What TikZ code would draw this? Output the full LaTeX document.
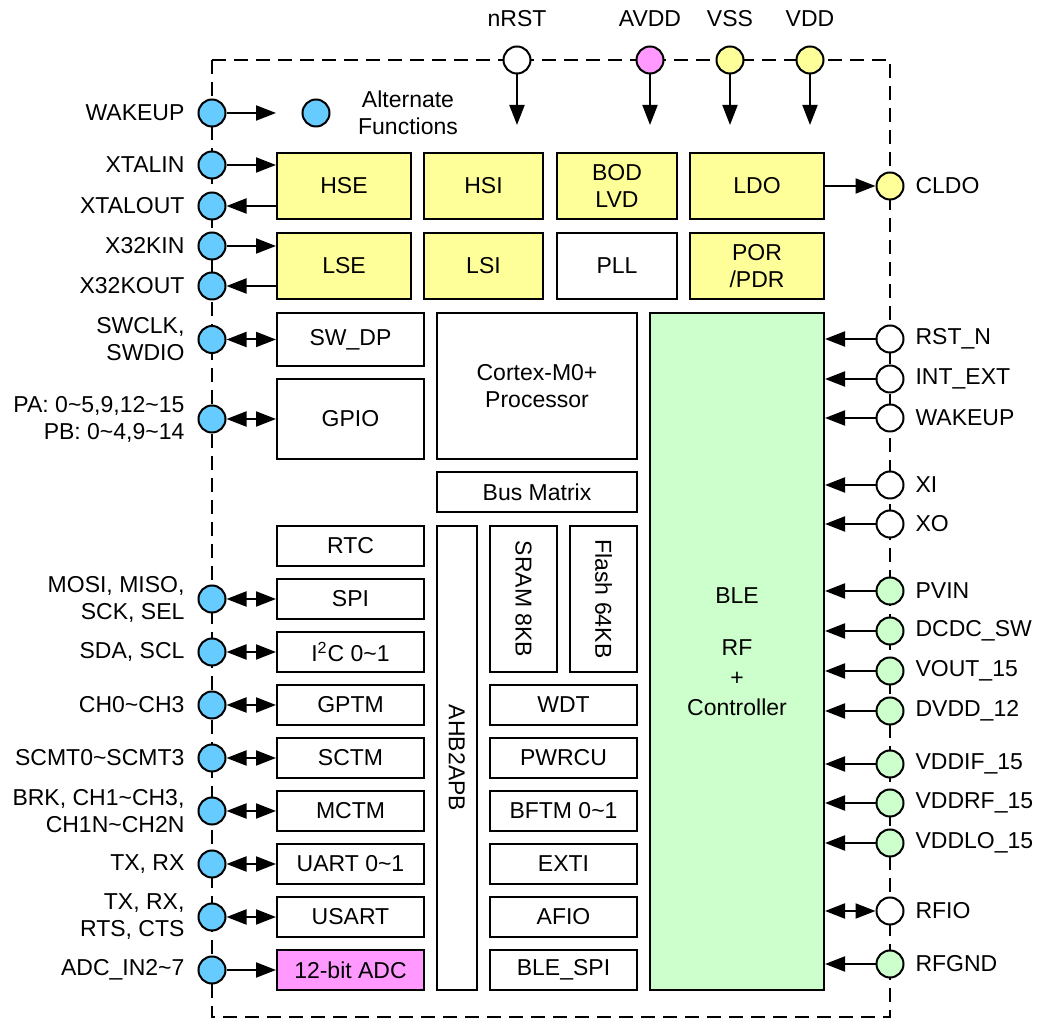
\documentclass[tikz,border=0pt]{standalone}
\usepackage{fontspec}
\setmainfont{Liberation Sans}
\usetikzlibrary{arrows.meta,positioning}
\definecolor{pinblue}{RGB}{102,204,255}
\definecolor{pinyel}{RGB}{255,255,153}
\definecolor{pinpink}{RGB}{255,153,255}
\definecolor{blegreen}{RGB}{204,255,204}
\newcommand{\tld}{\textasciitilde}

\begin{document}
\begin{tikzpicture}[x=0.5pt,y=-0.5pt,
		font=\fontsize{11.5}{13.5}\selectfont,
		box/.style={draw,line width=1pt,inner sep=0pt,align=center},
		sbox/.style={box,minimum width=73.5pt,minimum height=20pt},
		ybox/.style={box,fill=pinyel,minimum width=#1,minimum height=33pt},
		pin/.style={circle,draw,line width=1pt,minimum size=13.5pt,inner sep=0pt,fill=#1},
		ll/.style={align=right,label distance=3pt},
		rl/.style={label distance=2pt},
		tl/.style={label distance=6pt},
		arr/.style={line width=1pt,-{Triangle[length=10pt,width=7.5pt]}},
		rarr/.style={line width=1pt,{Triangle[length=10pt,width=7.5pt]}-},
		barr/.style={line width=1pt,{Triangle[length=10pt,width=7.5pt]}-{Triangle[length=10pt,width=7.5pt]}}]
	
	\useasboundingbox (0,0) rectangle (1040,1020);
	
	% chip outline
	\draw[line width=0.7pt,dash pattern=on 7pt off 4pt] (212,60) rectangle (890,1017);
	
	% clock and power blocks
	\node[ybox=67pt] (hse) at (344,186) {HSE};
	\node[ybox=59.5pt] (hsi) at (483.5,186) {HSI};
	\node[ybox=60pt] (bod) at (617,186) {BOD\\LVD};
	\node[ybox=67pt] (ldo) at (757,186) {LDO};
	\node[ybox=67pt] (lse) at (344,266) {LSE};
	\node[ybox=59.5pt] (lsi) at (483.5,266) {LSI};
	\node[box,minimum width=60pt,minimum height=33pt] (pll) at (617,266) {PLL};
	\node[ybox=67pt] (por) at (757,266) {POR\\/PDR};
	
	% core
	\node[box,minimum width=73.5pt,minimum height=26.5pt] (swdp) at (350.5,339.5) {SW\_DP};
	\node[box,minimum width=73.5pt,minimum height=40pt] (gpio) at (350.5,419) {GPIO};
	\node[box,minimum width=100pt,minimum height=73pt] (cpu) at (537,386) {Cortex-M0+\\Processor};
	\node[box,minimum width=100pt,minimum height=20pt] (bus) at (537,492) {Bus Matrix};
	\node[box,rotate=-90,minimum width=232pt,minimum height=20pt] (apb) at (457,758) {AHB2APB};
	\node[box,rotate=-90,minimum width=73pt,minimum height=33.5pt] (sram) at (523.5,599) {SRAM 8KB};
	\node[box,rotate=-90,minimum width=73pt,minimum height=33.5pt] (flash) at (603.5,599) {Flash 64KB};
	\node[box,fill=blegreen,minimum width=87pt,minimum height=338.5pt] (ble) at (737,651.5)
		{BLE\\[12.5pt]RF\\[1.5pt]+\\[1.5pt]Controller};
	
	% peripherals
	\node[sbox] (rtc) at (350.5,546) {RTC};
	\node[sbox] (spi) at (350.5,599) {SPI};
	\node[sbox] (i2c) at (350.5,652) {I\textsuperscript{2}C 0\tld1};
	\node[sbox] (gptm) at (350.5,705) {GPTM};
	\node[sbox] (sctm) at (350.5,758) {SCTM};
	\node[sbox] (mctm) at (350.5,811) {MCTM};
	\node[sbox] (uart) at (350.5,864) {UART 0\tld1};
	\node[sbox] (usart) at (350.5,917) {USART};
	\node[sbox,fill=pinpink] (adc) at (350.5,970) {12-bit ADC};
	\node[sbox] (wdt) at (563.5,705) {WDT};
	\node[sbox] (pwrcu) at (563.5,758) {PWRCU};
	\node[sbox] (bftm) at (563.5,811) {BFTM 0\tld1};
	\node[sbox] (exti) at (563.5,864) {EXTI};
	\node[sbox] (afio) at (563.5,917) {AFIO};
	\node[sbox] (blespi) at (563.5,970) {BLE\_SPI};
	
	% top pins
	\node[pin=white,label={[tl]above:nRST}] (pnrst) at (517,60) {};
	\node[pin=pinpink,label={[tl]above:AVDD}] (pavdd) at (650,60) {};
	\node[pin=pinyel,label={[tl]above:VSS}] (pvss) at (730,60) {};
	\node[pin=pinyel,label={[tl]above:VDD}] (pvdd) at (810,60) {};
	\coordinate (tend) at (0,125);
	\draw[arr] (pnrst) -- (pnrst |- tend);
	\draw[arr] (pavdd) -- (pavdd |- tend);
	\draw[arr] (pvss) -- (pvss |- tend);
	\draw[arr] (pvdd) -- (pvdd |- tend);
	
	% left pins
	\node[pin=pinblue,label={[ll]left:WAKEUP}] (pwk) at (212,113) {};
	\node[pin=pinblue] (paf) at (316,113) {};
	\node[align=center] (aftxt) at (408,113) {Alternate\\Functions};
	\node[pin=pinblue,label={[ll]left:XTALIN}] (pxin) at (212,165) {};
	\node[pin=pinblue,label={[ll]left:XTALOUT}] (pxout) at (212,206) {};
	\node[pin=pinblue,label={[ll]left:X32KIN}] (p32in) at (212,246) {};
	\node[pin=pinblue,label={[ll]left:X32KOUT}] (p32out) at (212,286) {};
	\node[pin=pinblue,label={[ll]left:{SWCLK,\\SWDIO}}] (pswd) at (212,339.5) {};
	\node[pin=pinblue,label={[ll]left:{PA: 0\tld5,9,12\tld15\\PB: 0\tld4,9\tld14}}] (pgpio) at (212,419) {};
	\node[pin=pinblue,label={[ll]left:{MOSI, MISO,\\SCK, SEL}}] (pspi) at (212,599) {};
	\node[pin=pinblue,label={[ll]left:{SDA, SCL}}] (pi2c) at (212,652) {};
	\node[pin=pinblue,label={[ll]left:CH0\tld CH3}] (pgptm) at (212,705) {};
	\node[pin=pinblue,label={[ll]left:SCMT0\tld SCMT3}] (psctm) at (212,758) {};
	\node[pin=pinblue,label={[ll]left:{BRK, CH1\tld CH3,\\CH1N\tld CH2N}}] (pmctm) at (212,811) {};
	\node[pin=pinblue,label={[ll]left:{TX, RX}}] (puart) at (212,864) {};
	\node[pin=pinblue,label={[ll]left:{TX, RX,\\RTS, CTS}}] (pusart) at (212,917) {};
	\node[pin=pinblue,label={[ll]left:ADC\_IN2\tld7}] (padc) at (212,970) {};
	
	\draw[arr] (pwk) -- (hse.west |- pwk);
	\draw[arr] (pxin) -- (hse.west |- pxin);
	\draw[rarr] (pxout) -- (hse.west |- pxout);
	\draw[arr] (p32in) -- (lse.west |- p32in);
	\draw[rarr] (p32out) -- (lse.west |- p32out);
	\draw[barr] (pswd) -- (swdp);
	\draw[barr] (pgpio) -- (gpio);
	\draw[barr] (pspi) -- (spi);
	\draw[barr] (pi2c) -- (i2c);
	\draw[barr] (pgptm) -- (gptm);
	\draw[barr] (psctm) -- (sctm);
	\draw[barr] (pmctm) -- (mctm);
	\draw[barr] (puart) -- (uart);
	\draw[barr] (pusart) -- (usart);
	\draw[arr] (padc) -- (adc);
	
	% right pins
	\node[pin=pinyel,label={[rl]right:CLDO}] (pcldo) at (890,186) {};
	\node[pin=white,label={[rl]right:RST\_N}] (prst) at (890,339) {};
	\node[pin=white,label={[rl]right:INT\_EXT}] (pint) at (890,379) {};
	\node[pin=white,label={[rl]right:WAKEUP}] (pwkr) at (890,418) {};
	\node[pin=white,label={[rl]right:XI}] (pxi) at (890,485) {};
	\node[pin=white,label={[rl]right:XO}] (pxo) at (890,524) {};
	\node[pin=blegreen,label={[rl]right:PVIN}] (ppvin) at (890,591) {};
	\node[pin=blegreen,label={[rl]right:DCDC\_SW}] (pdcdc) at (890,631) {};
	\node[pin=blegreen,label={[rl]right:VOUT\_15}] (pvout) at (890,671) {};
	\node[pin=blegreen,label={[rl]right:DVDD\_12}] (pdvdd) at (890,711) {};
	\node[pin=blegreen,label={[rl]right:VDDIF\_15}] (pvif) at (890,764) {};
	\node[pin=blegreen,label={[rl]right:VDDRF\_15}] (pvrf) at (890,803) {};
	\node[pin=blegreen,label={[rl]right:VDDLO\_15}] (pvlo) at (890,843) {};
	\node[pin=white,label={[rl]right:RFIO}] (prfio) at (890,911) {};
	\node[pin=blegreen,label={[rl]right:RFGND}] (prfgnd) at (890,964) {};
	
	\draw[arr] (ldo) -- (pcldo);
	\draw[arr] (prst) -- (ble.east |- prst);
	\draw[rarr] (ble.east |- pint) -- (pint);
	\draw[arr] (pwkr) -- (ble.east |- pwkr);
	\draw[arr] (pxi) -- (ble.east |- pxi);
	\draw[rarr] (ble.east |- pxo) -- (pxo);
	\draw[arr] (ppvin) -- (ble.east |- ppvin);
	\draw[rarr] (ble.east |- pdcdc) -- (pdcdc);
	\draw[rarr] (ble.east |- pvout) -- (pvout);
	\draw[rarr] (ble.east |- pdvdd) -- (pdvdd);
	\draw[arr] (pvif) -- (ble.east |- pvif);
	\draw[arr] (pvrf) -- (ble.east |- pvrf);
	\draw[arr] (pvlo) -- (ble.east |- pvlo);
	\draw[barr] (prfio) -- (ble.east |- prfio);
	\draw[arr] (prfgnd) -- (ble.east |- prfgnd);
\end{tikzpicture}
\end{document}
